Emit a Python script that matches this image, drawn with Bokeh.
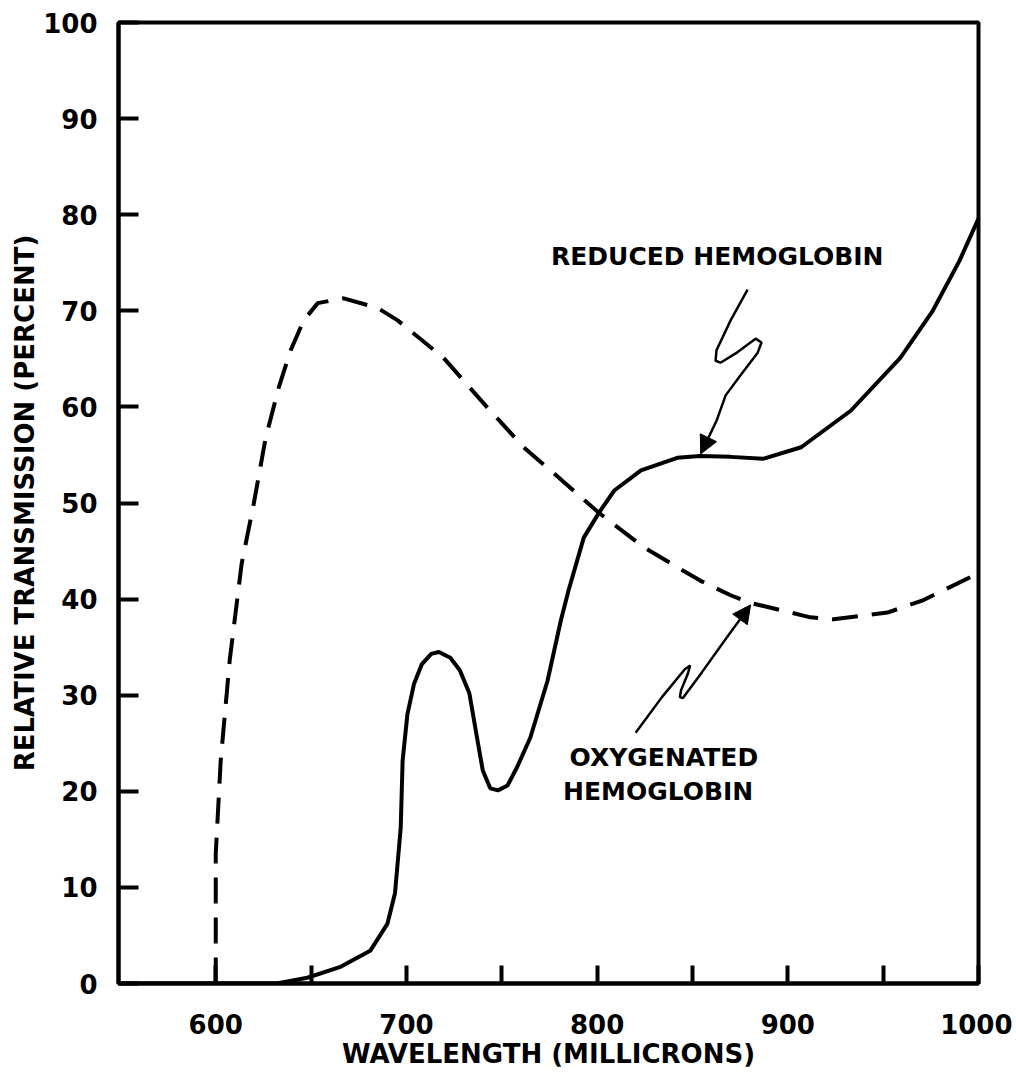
from bokeh.plotting import figure
from bokeh.models import Range1d, FixedTicker, Arrow, NormalHead
from bokeh.core.properties import value
from bokeh.embed import file_html
from bokeh.resources import INLINE

# ---- data ----
reduced_x = [550, 600, 632, 648, 665, 681, 690, 694, 697, 698, 700.5, 704, 708, 713, 717, 723,
             728, 733, 737, 740, 744, 748, 753, 758, 765, 774, 781, 785, 793, 801, 809, 823,
             842, 854, 870, 887, 907, 933, 959, 976, 990, 1000]
reduced_y = [0, 0, 0, 0.6, 1.7, 3.4, 6.2, 9.4, 16.2, 23.2, 28.0, 31.2, 33.2, 34.3, 34.5, 33.9,
             32.6, 30.2, 25.6, 22.2, 20.3, 20.1, 20.6, 22.5, 25.6, 31.5, 37.8, 40.9, 46.4, 49.0, 51.3, 53.4,
             54.7, 54.9, 54.8, 54.6, 55.8, 59.6, 65.1, 70.0, 75.2, 79.6]

oxy_x = [600, 600, 602.6, 607.3, 613.6, 619.9, 626.2, 633, 639.3, 646.1, 653.5, 667.1, 684.9,
         695.4, 719.5, 742.6, 761.5, 781.9, 800.8, 824.4, 842.2, 854.3, 870, 880.5, 911.9, 924,
         952.3, 971.2, 1000]
oxy_y = [0, 13.5, 23.2, 33.6, 43.7, 49.9, 56.8, 62.0, 65.9, 69.0, 70.8, 71.3, 70.3,
         69.0, 65.1, 59.9, 55.8, 52.3, 49.0, 45.4, 43.3, 41.9, 40.4, 39.6, 38.1, 37.9,
         38.6, 39.9, 42.7]

x_ticks = [600, 650, 700, 750, 800, 850, 900, 950, 1000]
x_tick_labels = ["600", "", "700", "", "800", "", "900", "", "1000"]
y_ticks = [0, 10, 20, 30, 40, 50, 60, 70, 80, 90, 100]
y_tick_labels = ["0", "10", "20", "30", "40", "50", "60", "70", "80", "90", "100"]

FONT = "DejaVu Sans"

p = figure(width=1012, height=1076, output_backend="svg", toolbar_location=None,
           x_range=Range1d(549, 1000), y_range=Range1d(0, 100),
           min_border_left=118, min_border_top=22, min_border_right=34, min_border_bottom=93)
p.grid.visible = False
p.background_fill_color = "white"
p.border_fill_color = "white"
p.outline_line_color = "black"
p.outline_line_width = 4

for ax in (p.xaxis[0], p.yaxis[0]):
    ax.axis_line_width = 4
    ax.axis_line_color = "black"
    ax.major_tick_line_width = 4
    ax.major_tick_out = 0
    ax.minor_tick_line_color = None
    ax.major_label_text_font = FONT
    ax.major_label_text_font_style = "bold"
    ax.major_label_text_font_size = "26px"
    ax.major_label_text_color = "black"
    ax.axis_label_text_font = FONT
    ax.axis_label_text_font_style = "bold"
    ax.axis_label_text_font_size = "26px"
    ax.axis_label_text_color = "black"

p.xaxis.ticker = FixedTicker(ticks=x_ticks)
p.xaxis.major_label_overrides = {t: l for t, l in zip(x_ticks, x_tick_labels)}
p.xaxis.major_tick_in = 18
p.xaxis.major_label_standoff = 30
p.xaxis.axis_label = "WAVELENGTH (MILLICRONS)"
p.xaxis.axis_label_standoff = 2

p.yaxis.ticker = FixedTicker(ticks=y_ticks)
p.yaxis.major_label_overrides = {t: l for t, l in zip(y_ticks, y_tick_labels)}
p.yaxis.major_tick_in = 20
p.yaxis.major_label_standoff = 21
p.yaxis.axis_label = "RELATIVE TRANSMISSION (PERCENT)"
p.yaxis.axis_label_standoff = 0

# curves
p.line(oxy_x, oxy_y, line_color="black", line_width=4, line_dash="26 14")
p.line(reduced_x, reduced_y, line_color="black", line_width=4)

# annotation: reduced hemoglobin
p.text(x=[863], y=[75.6], text=["REDUCED HEMOGLOBIN"], text_font=value(FONT),
       text_font_style="bold", text_font_size="25px", text_align="center",
       text_baseline="middle", text_color="black")
p.line([878.9, 870.0, 862.6, 862.1, 864.7, 873.7, 883.1, 886.2, 884.1, 875.2, 867.4, 862.5],
       [72.2, 69.0, 65.9, 64.8, 64.6, 65.7, 67.1, 66.7, 65.6, 63.3, 61.2, 58.5],
       line_color="black", line_width=2.5)
p.add_layout(Arrow(end=NormalHead(size=18, fill_color="black", line_color="black"),
                   x_start=862.5, y_start=58.5, x_end=854.3, y_end=55.1,
                   line_color="black", line_width=2.5))

# annotation: oxygenated hemoglobin
p.text(x=[835, 832], y=[23.5, 20.0], text=["OXYGENATED", "HEMOGLOBIN"], text_font=value(FONT),
       text_font_style="bold", text_font_size="25px", text_align="center",
       text_baseline="middle", text_color="black")
p.line([820.2, 834.0, 846.0, 848.8, 847.5, 844.0, 843.4, 845.0, 855.0, 868.0],
       [26.1, 29.8, 32.7, 33.1, 32.2, 30.5, 29.8, 29.7, 32.4, 36.0],
       line_color="black", line_width=2.5)
p.add_layout(Arrow(end=NormalHead(size=18, fill_color="black", line_color="black"),
                   x_start=868.0, y_start=36.0, x_end=880.5, y_end=39.4,
                   line_color="black", line_width=2.5))

open("out.html", "w").write(file_html(p, INLINE))
